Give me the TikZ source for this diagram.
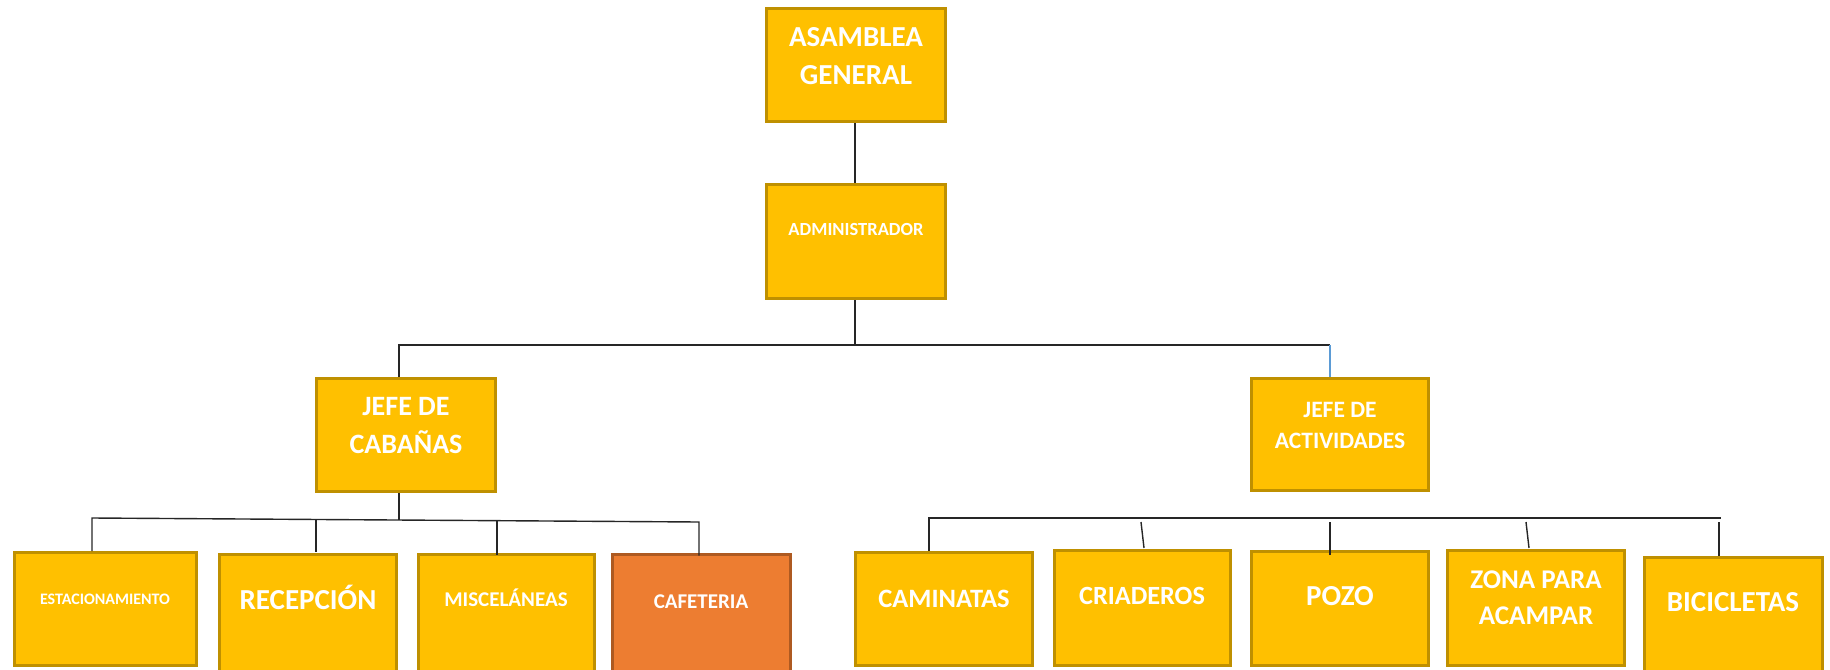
\documentclass[tikz,border=0pt]{standalone}
\usepackage{fontspec}
\setmainfont{Carlito}
\definecolor{amber}{HTML}{FFC000}
\definecolor{gold}{HTML}{BF9000}
\definecolor{orangefill}{HTML}{ED7D31}
\definecolor{orangeedge}{HTML}{AE5A21}
\definecolor{lineblue}{HTML}{5B9BD5}
\begin{document}
\begin{tikzpicture}[x=1pt,y=-1pt,
  box/.style={draw=gold, line width=3pt, fill=amber, inner sep=0pt},
  orangebox/.style={box, draw=orangeedge, fill=orangefill},
  lbl/.style={text=white, align=center, inner sep=0pt},
  one/.style={text height=#1, text depth=0pt},
  conn/.style={line width=1.4pt, draw=black!85},
  blueconn/.style={line width=1.4pt, draw=lineblue}]
\useasboundingbox (0,0) rectangle (1830,669);
\clip (0,0) rectangle (1830,669);

% boxes
\node[box, minimum width=179pt, minimum height=113pt] (asam) at (856,65) {};
\node[box, minimum width=179pt, minimum height=114pt] (admin) at (856,241.5) {};
\node[box, minimum width=179pt, minimum height=113pt] (jcab) at (406,435) {};
\node[box, minimum width=177pt, minimum height=112pt] (jact) at (1340,434.5) {};
\node[box, minimum width=182pt, minimum height=113pt] (est) at (105.5,609) {};
\node[box, minimum width=177pt, minimum height=134pt] (rec) at (308,621.5) {};
\node[box, minimum width=176pt, minimum height=134pt] (misc) at (506.5,621.5) {};
\node[orangebox, minimum width=178pt, minimum height=134pt] (caf) at (701.5,621.5) {};
\node[box, minimum width=177pt, minimum height=113pt] (cam) at (944,609) {};
\node[box, minimum width=176pt, minimum height=115pt] (cria) at (1142.5,608) {};
\node[box, minimum width=177pt, minimum height=114pt] (pozo) at (1340,608.5) {};
\node[box, minimum width=177pt, minimum height=115pt] (zona) at (1536,608) {};
\node[box, minimum width=178pt, minimum height=131pt] (bici) at (1733.5,623) {};

% labels
\node[lbl, font=\fontsize{29}{38}\selectfont\bfseries] (t-asam) at (856,56) {ASAMBLEA\\GENERAL};
\node[lbl, one=11.7pt, font=\fontsize{18.5}{22}\selectfont\bfseries] (t-admin) at (856,230) {ADMINISTRADOR};
\node[lbl, font=\fontsize{28}{38}\selectfont\bfseries] (t-jcab) at (406,426) {JEFE DE\\CABAÑAS};
\node[lbl, font=\fontsize{23.5}{31}\selectfont\bfseries] (t-jact) at (1340,425.5) {JEFE DE\\ACTIVIDADES};
\node[lbl, one=10.1pt, font=\fontsize{16}{19}\selectfont\bfseries] (t-est) at (105,599) {ESTACIONAMIENTO};
\node[lbl, one=18.3pt, font=\fontsize{29}{34}\selectfont\bfseries] (t-rec) at (308,600) {RECEPCIÓN};
\node[lbl, one=13.3pt, font=\fontsize{21}{25}\selectfont\bfseries] (t-misc) at (506,600) {MISCELÁNEAS};
\node[lbl, one=13.3pt, font=\fontsize{21}{25}\selectfont\bfseries] (t-caf) at (701,602) {CAFETERIA};
\node[lbl, one=16.7pt, font=\fontsize{26.5}{31}\selectfont\bfseries] (t-cam) at (944,599) {CAMINATAS};
\node[lbl, one=16.6pt, font=\fontsize{26.3}{31}\selectfont\bfseries] (t-cria) at (1142,596) {CRIADEROS};
\node[lbl, one=18.3pt, font=\fontsize{29}{34}\selectfont\bfseries] (t-pozo) at (1340,596) {POZO};
\node[lbl, font=\fontsize{27}{36}\selectfont\bfseries] (t-zona) at (1536,598) {ZONA PARA\\ACAMPAR};
\node[lbl, one=18.3pt, font=\fontsize{29}{34}\selectfont\bfseries] (t-bici) at (1733,602) {BICICLETAS};

% junction coordinates
\coordinate (top-l) at (399,345);
\coordinate (top-r) at (1330,345);
\coordinate (top-m) at (855,345);
\coordinate (l-m) at (399,519.5);
\coordinate (l-l) at (92,518);
\coordinate (l-r) at (699,522);
\coordinate (j-rec) at (316,520);
\coordinate (j-misc) at (497,521);
\coordinate (r-l) at (929,518);
\coordinate (r-r) at (1721,518);
\coordinate (j-cria) at (1141,522);
\coordinate (j-pozo) at (1330,522);
\coordinate (j-zona) at (1526,522);
\coordinate (j-bici) at (1719,522);

% connectors
\draw[conn] ([xshift=-1pt]asam.south) -- ([xshift=-1pt]admin.north);
\draw[conn] ([xshift=-1pt]admin.south) -- (top-m);
\draw[conn] ([xshift=-7pt]jcab.north) -- (top-l) -- (top-r);
\draw[blueconn] (top-r) -- ([xshift=-10pt]jact.north);

\draw[conn] ([xshift=-7pt]jcab.south) -- (l-m);
\draw[conn] ([xshift=-13.5pt]est.north) -- (l-l) -- (l-r) -- ([xshift=-2.5pt,yshift=-2.5pt]caf.north);
\draw[conn] ([xshift=8pt,yshift=1pt]rec.north) -- (j-rec);
\draw[conn] ([xshift=-9.5pt,yshift=-1.5pt]misc.north) -- (j-misc);

\draw[conn] ([xshift=-15pt]cam.north) -- (r-l) -- (r-r);
\draw[conn] ([xshift=1.5pt,yshift=1pt]cria.north) -- (j-cria);
\draw[conn] ([xshift=-10pt,yshift=-5pt]pozo.north) -- (j-pozo);
\draw[conn] ([xshift=-7pt,yshift=1pt]zona.north) -- (j-zona);
\draw[conn] ([xshift=-14.5pt]bici.north) -- (j-bici);
\end{tikzpicture}
\end{document}
